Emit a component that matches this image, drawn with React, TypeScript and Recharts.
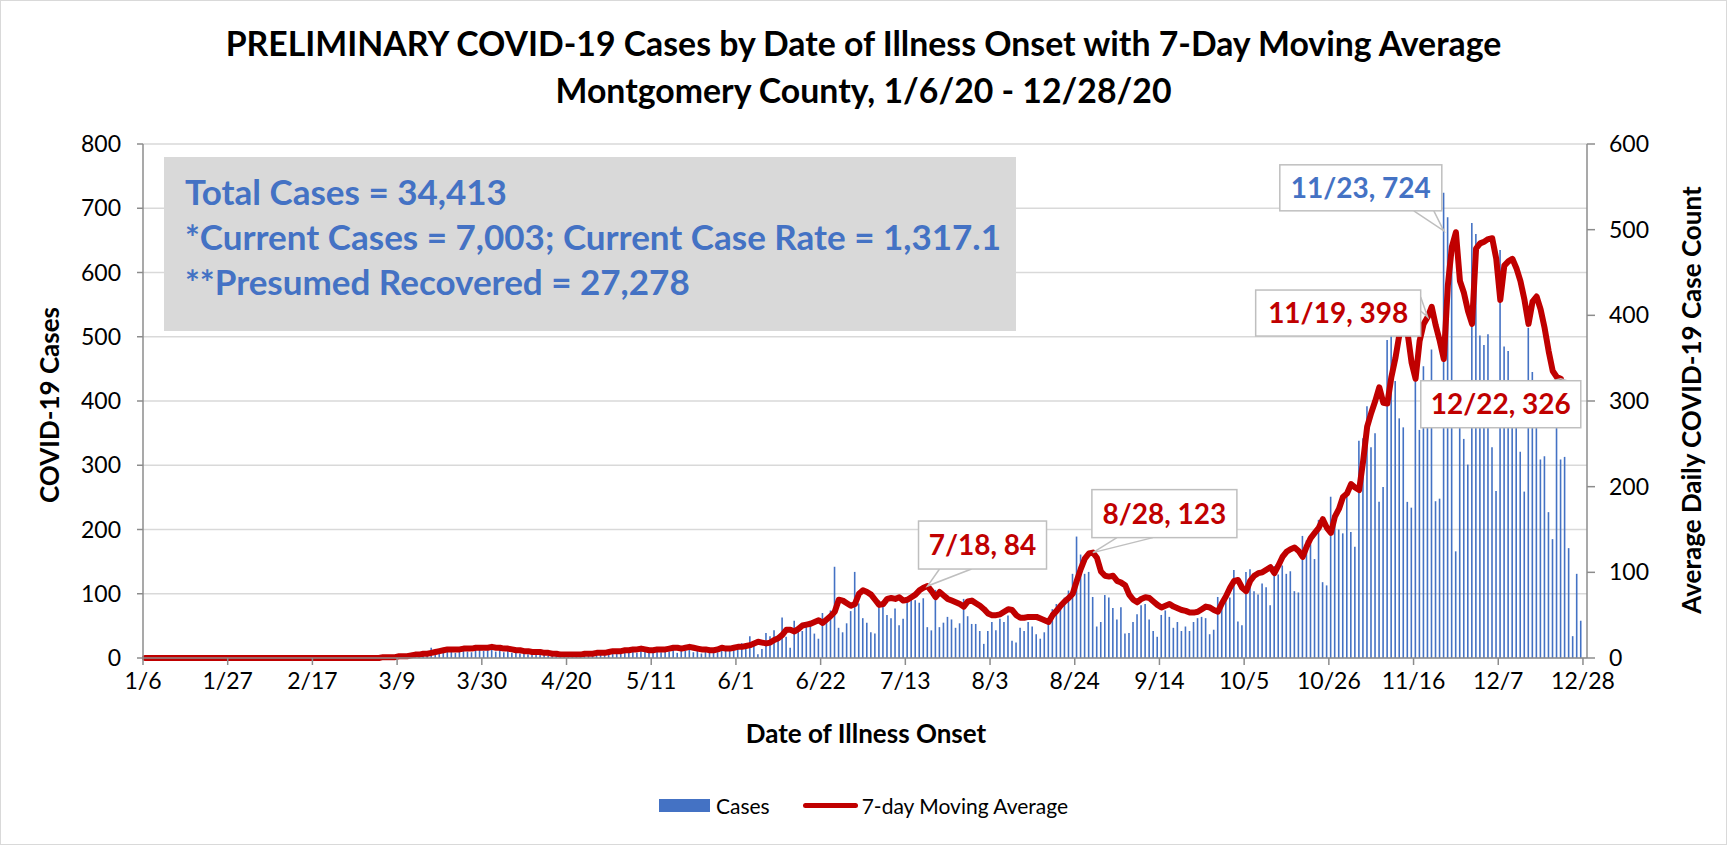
import { ComposedChart, Bar, Line, XAxis, YAxis, CartesianGrid, ReferenceDot } from "recharts"

// daily cases by date of illness onset (1/6/20 - 12/27/20)
const casesJan = [0, 0, 0, 0, 0, 0, 0, 0, 0, 0, 0, 0, 0, 0, 0, 0, 0, 0, 0, 0, 0, 0, 0, 0, 0, 0]
const casesFeb = [0, 0, 0, 0, 0, 0, 0, 0, 0, 0, 0, 0, 0, 0, 0, 0, 0, 0, 0, 0, 0, 0, 0, 0, 0, 0, 0, 0, 0]
const casesMar = [0, 0, 0, 0, 0, 1, 0, 2, 3, 2, 4, 5, 6, 8, 7, 9, 16, 10, 12, 9, 11, 13, 8, 12, 14, 10, 9, 13, 15, 11, 12]
const casesApr = [14, 10, 13, 9, 11, 8, 10, 7, 9, 6, 8, 5, 7, 6, 4, 5, 6, 3, 5, 4, 4, 5, 3, 6, 5, 7, 6, 8, 5, 9]
const casesMay = [7, 10, 8, 11, 9, 12, 8, 13, 10, 9, 11, 14, 9, 12, 10, 15, 8, 13, 11, 16, 9, 12, 7, 10, 14, 11, 9, 15, 12, 13, 16]
const casesJun = [17, 23, 17, 34, 23, 6, 14, 39, 34, 43, 35, 63, 33, 16, 58, 49, 42, 49, 53, 38, 30, 70, 60, 74, 142, 47, 40, 54, 73, 134]
const casesJul = [85, 62, 55, 40, 38, 90, 86, 67, 62, 77, 51, 61, 88, 92, 90, 86, 93, 48, 43, 106, 48, 55, 64, 60, 47, 54, 92, 65, 53, 53, 42]
const casesAug = [22, 42, 56, 43, 61, 56, 66, 27, 24, 47, 42, 56, 49, 37, 30, 40, 59, 76, 84, 80, 94, 105, 131, 189, 161, 131, 134, 95, 49, 56, 98]
const casesSep = [94, 78, 60, 79, 38, 39, 56, 68, 82, 84, 60, 42, 33, 67, 74, 64, 47, 56, 42, 49, 42, 56, 62, 64, 62, 37, 44, 95, 83, 90]
const casesOct = [94, 137, 57, 51, 134, 138, 104, 99, 116, 110, 82, 143, 130, 144, 131, 135, 104, 102, 190, 183, 177, 154, 215, 118, 113, 251, 215, 200, 194, 251, 196]
const casesNov = [173, 338, 342, 392, 328, 350, 243, 266, 495, 540, 431, 373, 359, 243, 234, 441, 355, 454, 420, 480, 244, 248, 724, 686, 620, 166, 400, 341, 301, 677]
const casesDec = [660, 502, 487, 504, 328, 260, 635, 485, 478, 420, 400, 321, 259, 514, 445, 390, 309, 314, 227, 185, 408, 309, 313, 171, 34, 131, 58]

// 7-day moving average (right axis), 1/6/20 - 12/22/20
const avgJan = [0, 0, 0, 0, 0, 0, 0, 0, 0, 0, 0, 0, 0, 0, 0, 0, 0, 0, 0, 0, 0, 0, 0, 0, 0, 0]
const avgFeb = [0, 0, 0, 0, 0, 0, 0, 0, 0, 0, 0, 0, 0, 0, 0, 0, 0, 0, 0, 0, 0, 0, 0, 0, 0, 0, 0, 0, 0]
const avgMar = [0, 0, 0, 0, 1, 1, 1, 1, 2, 2, 2, 3, 4, 4, 5, 5, 6, 7, 8, 9, 10, 10, 10, 10, 11, 11, 11, 12, 12, 12, 12]
const avgApr = [13, 12, 12, 11, 11, 10, 9, 9, 8, 8, 7, 7, 7, 6, 6, 5, 5, 4, 4, 4, 4, 4, 4, 5, 5, 5, 6, 6, 6, 7]
const avgMay = [8, 8, 8, 9, 9, 10, 10, 11, 10, 9, 9, 10, 10, 10, 11, 12, 12, 11, 12, 13, 12, 11, 10, 10, 9, 9, 10, 12, 11, 11, 12]
const avgJun = [13, 13, 14, 15, 17, 19, 18, 17, 18, 21, 23, 27, 33, 33, 31, 34, 38, 39, 40, 42, 44, 41, 45, 49, 54, 68, 67, 64, 61, 63]
const avgJul = [75, 79, 77, 74, 68, 62, 63, 69, 70, 69, 71, 67, 68, 71, 74, 79, 82, 84, 78, 71, 77, 73, 69, 67, 65, 63, 60, 66, 67, 64, 61]
const avgAug = [57, 52, 50, 50, 51, 54, 57, 56, 50, 47, 47, 48, 48, 48, 46, 44, 42, 50, 55, 61, 66, 70, 75, 90, 104, 116, 122, 123, 117, 101, 96]
const avgSep = [95, 96, 90, 88, 85, 74, 68, 65, 69, 71, 70, 66, 62, 59, 61, 63, 60, 58, 56, 55, 53, 53, 54, 57, 60, 59, 56, 54, 64, 72]
const avgOct = [82, 90, 91, 82, 78, 90, 96, 99, 100, 103, 106, 99, 108, 118, 124, 127, 129, 125, 118, 130, 140, 146, 152, 162, 152, 146, 165, 174, 188, 192, 203]
const avgNov = [199, 196, 230, 270, 286, 300, 316, 298, 297, 328, 350, 378, 394, 380, 345, 326, 370, 390, 398, 410, 388, 370, 349, 435, 480, 497, 440, 426, 405, 390]
const avgDec = [478, 484, 486, 489, 490, 466, 418, 458, 463, 466, 455, 440, 418, 390, 416, 422, 407, 385, 358, 335, 328, 326]

const tickLabels = ["1/6", "1/27", "2/17", "3/9", "3/30", "4/20", "5/11", "6/1", "6/22", "7/13", "8/3", "8/24", "9/14", "10/5", "10/26", "11/16", "12/7", "12/28"]
const leftTicks = [0, 100, 200, 300, 400, 500, 600, 700, 800]
const rightTicks = [0, 100, 200, 300, 400, 500, 600]

const infoLines = [
  "Total Cases = 34,413",
  "*Current Cases = 7,003; Current Case Rate = 1,317.1",
  "**Presumed Recovered = 27,278",
]

// day index counts from 1/6/20
const callouts = [
  { day: 194, value: 84, text: "7/18, 84", axis: "right", color: "#C00000" },
  { day: 235, value: 123, text: "8/28, 123", axis: "right", color: "#C00000" },
  { day: 318, value: 398, text: "11/19, 398", axis: "right", color: "#C00000" },
  { day: 322, value: 724, text: "11/23, 724", axis: "left", color: "#4472C4" },
  { day: 351, value: 326, text: "12/22, 326", axis: "right", color: "#C00000" },
]

// box placement relative to the point, in px
const calloutBox: any = {
  "7/18, 84": { dx: -9, dy: -65, w: 128, h: 48, p1: [12, -17], p2: [44, -17], tip: [0, 0] },
  "8/28, 123": { dx: -1, dy: -63, w: 145, h: 48, p1: [24, -15], p2: [60, -15], tip: [0, 0] },
  "11/19, 398": { dx: -172, dy: -27, w: 165, h: 46, p1: [-7, -20], p2: [-7, -6], tip: [0, 0] },
  "11/23, 724": { dx: -164, dy: -28, w: 162, h: 46, p1: [-30, 18], p2: [-10, 18], tip: [0, 38] },
  "12/22, 326": { dx: -140, dy: 2, w: 160, h: 47, p1: [-8, 2], p2: [6, 2], tip: [0, 0] },
}

const cases = [...casesJan, ...casesFeb, ...casesMar, ...casesApr, ...casesMay, ...casesJun, ...casesJul, ...casesAug, ...casesSep, ...casesOct, ...casesNov, ...casesDec]
const avg = [...avgJan, ...avgFeb, ...avgMar, ...avgApr, ...avgMay, ...avgJun, ...avgJul, ...avgAug, ...avgSep, ...avgOct, ...avgNov, ...avgDec]

const FONT = "Lato, 'Open Sans', sans-serif"
const AXIS = "#8c8c8c"

function Callout(props: any) {
  const { cx, cy, item } = props
  const L = calloutBox[item.text]
  const x = cx + L.dx
  const y = cy + L.dy
  return (
    <g>
      <path
        d={`M${cx + L.p1[0]},${cy + L.p1[1]} L${cx + L.tip[0]},${cy + L.tip[1]} L${cx + L.p2[0]},${cy + L.p2[1]}`}
        fill="none"
        stroke="#bfbfbf"
        strokeWidth={1.5}
      />
      <rect x={x} y={y} width={L.w} height={L.h} fill="#fff" stroke="#bfbfbf" strokeWidth={1.5} />
      <text
        x={x + L.w / 2}
        y={y + L.h / 2 + 10}
        textAnchor="middle"
        fill={item.color}
        fontSize={28}
        fontWeight={700}
        fontFamily={FONT}
      >
        {item.text}
      </text>
    </g>
  )
}

export default function App() {
  const data = []
  for (let i = 0; i <= 357; i++) {
    data.push({ day: i, cases: i < cases.length ? cases[i] : null, avg: i < avg.length ? avg[i] : null })
  }
  const xTicks = tickLabels.map((_, i) => i * 21 - 0.5)
  const tickFont = { fill: "#000", fontSize: 23, fontFamily: FONT }

  return (
    <div style={{ position: "absolute", left: 0, top: 0, width: 1727, height: 845, background: "#fff", fontFamily: FONT }}>
      <ComposedChart width={1727} height={845} data={data} margin={{ top: 144, right: 0, bottom: 147, left: 0 }}>
        <CartesianGrid yAxisId="left" vertical={false} stroke="#d9d9d9" strokeWidth={1.5} />
        <XAxis
          dataKey="day"
          type="number"
          domain={[-0.5, 357.5]}
          ticks={xTicks}
          interval={0}
          tickFormatter={(v) => tickLabels[Math.round((v + 0.5) / 21)]}
          height={40}
          tickSize={7}
          tickMargin={8}
          axisLine={{ stroke: AXIS, strokeWidth: 1.5 }}
          tickLine={{ stroke: AXIS, strokeWidth: 1.5 }}
          tick={tickFont}
        />
        <YAxis
          yAxisId="left"
          domain={[0, 800]}
          ticks={leftTicks}
          width={143}
          tickSize={6}
          tickMargin={16}
          axisLine={{ stroke: AXIS, strokeWidth: 1.5 }}
          tickLine={{ stroke: AXIS, strokeWidth: 1.5 }}
          tick={tickFont}
        />
        <YAxis
          yAxisId="right"
          orientation="right"
          domain={[0, 600]}
          ticks={rightTicks}
          width={140}
          tickSize={8}
          tickMargin={14}
          axisLine={{ stroke: AXIS, strokeWidth: 1.5 }}
          tickLine={{ stroke: AXIS, strokeWidth: 1.5 }}
          tick={tickFont}
        />
        <Bar yAxisId="left" dataKey="cases" fill="#4472C4" barSize={1.6} isAnimationActive={false} />
        <Line
          yAxisId="right"
          dataKey="avg"
          type="linear"
          stroke="#C00000"
          strokeWidth={6}
          strokeLinejoin="round"
          strokeLinecap="round"
          dot={false}
          activeDot={false}
          isAnimationActive={false}
        />
        {callouts.map((c) => (
          <ReferenceDot
            key={c.text}
            x={c.day}
            y={c.value}
            yAxisId={c.axis}
            ifOverflow="visible"
            shape={(p: any) => <Callout {...p} item={c} />}
          />
        ))}
      </ComposedChart>

      {/* chart title */}
      <div style={{ position: "absolute", left: 0, top: 20, width: 1727, textAlign: "center", fontSize: 33.8, fontWeight: 700, lineHeight: "47px", color: "#000" }}>
        <div>PRELIMINARY COVID-19 Cases by Date of Illness Onset with 7-Day Moving Average</div>
        <div>Montgomery County, 1/6/20 - 12/28/20</div>
      </div>

      {/* summary box */}
      <div style={{ position: "absolute", left: 164, top: 157, width: 852, height: 174, background: "#d9d9d9" }}>
        <div style={{ paddingLeft: 21, paddingTop: 12, fontSize: 35, fontWeight: 700, lineHeight: "45px", color: "#4472C4" }}>
          {infoLines.map((t) => <div key={t}>{t}</div>)}
        </div>
      </div>

      {/* axis titles */}
      <div style={{ position: "absolute", left: 48.5 - 200, top: 405 - 15, width: 400, height: 30, lineHeight: "30px", textAlign: "center", transform: "rotate(-90deg)", fontSize: 26, fontWeight: 700 }}>
        COVID-19 Cases
      </div>
      <div style={{ position: "absolute", left: 1691 - 250, top: 400 - 15, width: 500, height: 30, lineHeight: "30px", textAlign: "center", transform: "rotate(-90deg)", fontSize: 26, fontWeight: 700 }}>
        Average Daily COVID-19 Case Count
      </div>
      <div style={{ position: "absolute", left: 866 - 200, top: 733 - 15, width: 400, height: 30, lineHeight: "30px", textAlign: "center", fontSize: 26, fontWeight: 700 }}>
        Date of Illness Onset
      </div>

      {/* legend */}
      <div style={{ position: "absolute", left: 0, top: 790, width: 1727, height: 30, display: "flex", justifyContent: "center", alignItems: "center", fontSize: 21 }}>
        <span style={{ display: "inline-block", width: 51, height: 13, background: "#4472C4", marginRight: 6 }} />
        <span>Cases</span>
        <span style={{ display: "inline-block", width: 55, height: 5, borderRadius: 3, background: "#C00000", marginLeft: 33, marginRight: 4 }} />
        <span>7-day Moving Average</span>
      </div>

      <div style={{ position: "absolute", left: 0, top: 0, width: 1727, height: 845, boxSizing: "border-box", border: "1.5px solid #d9d9d9", pointerEvents: "none" }} />
    </div>
  )
}
